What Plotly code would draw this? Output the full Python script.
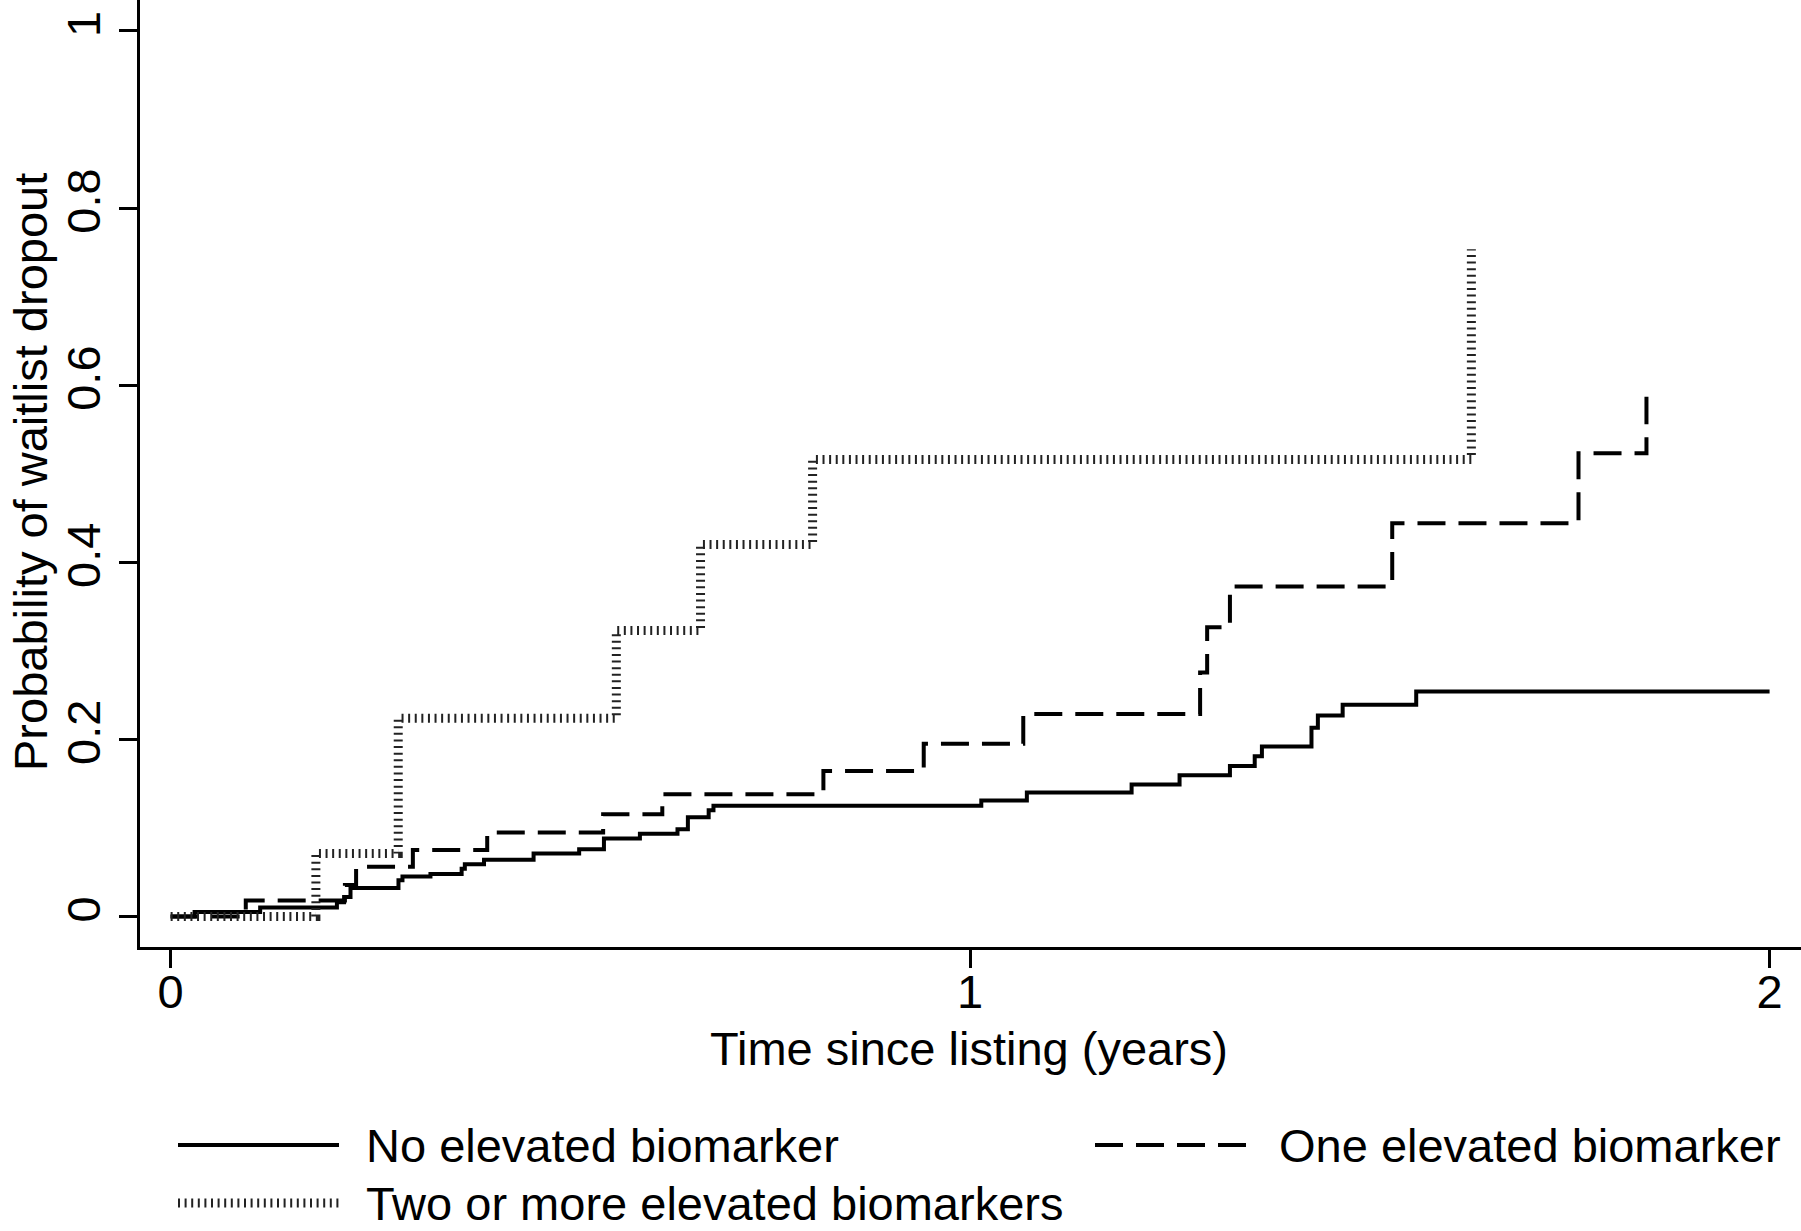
import plotly.graph_objects as go

# ---- data ----
no_t = [0, 0.030, 0.112, 0.208, 0.217, 0.225, 0.285, 0.290, 0.325, 0.364, 0.368, 0.392,
        0.454, 0.511, 0.542, 0.587, 0.634, 0.647, 0.673, 0.679, 1.014, 1.071, 1.202,
        1.262, 1.325, 1.356, 1.365, 1.427, 1.435, 1.466, 1.558, 2.0]
no_p = [0, 0.005, 0.010, 0.016, 0.022, 0.032, 0.041, 0.045, 0.048, 0.054, 0.059, 0.064,
        0.071, 0.076, 0.088, 0.0935, 0.0985, 0.112, 0.120, 0.125, 0.131, 0.140, 0.149,
        0.1595, 0.170, 0.181, 0.192, 0.213, 0.227, 0.239, 0.254, 0.254]

one_t = [0, 0.094, 0.218, 0.232, 0.303, 0.396, 0.541, 0.615, 0.8165, 0.942, 1.0665,
         1.2877, 1.2965, 1.325, 1.528, 1.761, 1.846]
one_p = [0, 0.018, 0.0355, 0.056, 0.075, 0.0947, 0.1154, 0.138, 0.1644, 0.195, 0.2285,
         0.2756, 0.3265, 0.3727, 0.444, 0.523, 0.587]

two_t = [0, 0.1817, 0.2847, 0.5575, 0.6628, 0.803, 1.627]
two_p = [0, 0.071, 0.2237, 0.323, 0.420, 0.516, 0.7535]

series_names = ["No elevated biomarker", "One elevated biomarker",
                "Two or more elevated biomarkers"]
x_ticks = [0, 1, 2]
y_ticks = [0, 0.2, 0.4, 0.6, 0.8, 1]
y_tick_text = ["0", "0.2", "0.4", "0.6", "0.8", "1"]
x_title = "Time since listing (years)"
y_title = "Probability of waitlist dropout"

FONT = "Liberation Sans, Arial, Helvetica, sans-serif"
FS = 47

styles = [
    dict(color="black", width=4, dash="solid"),
    dict(color="black", width=4, dash="28px,13px"),
    dict(color="#222222", width=9, dash="2px,4.6px"),
]

fig = go.Figure()
for t, p, name, st in zip([no_t, one_t, two_t], [no_p, one_p, two_p], series_names, styles):
    fig.add_trace(go.Scatter(x=t, y=p, mode="lines", name=name, line=dict(shape="hv", **st),
                             showlegend=False))

W, H = 1801, 1231
L, B = 140, 284
PW, PH = W - L, H - B


def px_x(px):
    return (px - L) / PW


def px_y(py):
    return (H - B - py) / PH


# manual legend (long line samples like the reference)
legend_items = [
    (178, 339, 1145, 365, 0),
    (1095, 1246, 1145, 1278, 1),
    (178, 339, 1203, 365, 2),
]
for x0, x1, yy, tx, idx in legend_items:
    st = styles[idx]
    fig.add_shape(type="line", xref="paper", yref="paper",
                  x0=px_x(x0), x1=px_x(x1), y0=px_y(yy), y1=px_y(yy),
                  line=dict(color=st["color"], width=st["width"], dash=st["dash"]))
    fig.add_annotation(xref="paper", yref="paper", x=px_x(tx), y=px_y(yy),
                       text=series_names[idx], showarrow=False, xanchor="left",
                       yanchor="middle", borderpad=0,
                       font=dict(family=FONT, size=FS, color="black"))

# axis titles
fig.add_annotation(xref="paper", yref="paper", x=px_x(969), y=px_y(1048), text=x_title,
                   showarrow=False, xanchor="center", yanchor="middle",
                   font=dict(family=FONT, size=FS, color="black"))
fig.add_annotation(xref="paper", yref="paper", x=px_x(30), y=px_y(472), text=y_title,
                   textangle=-90, showarrow=False, xanchor="center", yanchor="middle",
                   borderpad=0, font=dict(family=FONT, size=FS, color="black"))

fig.update_layout(
    width=W, height=H,
    margin=dict(l=L, r=0, t=0, b=B, pad=0),
    paper_bgcolor="white", plot_bgcolor="white",
    font=dict(family=FONT, size=FS, color="black"),
    xaxis=dict(range=[-0.0383, 2.0393], tickvals=x_ticks, ticktext=[str(v) for v in x_ticks],
               showgrid=False, zeroline=False, showline=True, linecolor="black", linewidth=3,
               ticks="outside", ticklen=18, tickwidth=2.5, tickcolor="black",
               ticklabelstandoff=-16,
               tickfont=dict(family=FONT, size=FS, color="black")),
    yaxis=dict(range=[-0.0345, 1.035], tickvals=y_ticks, ticktext=y_tick_text,
               showgrid=False, zeroline=False, showline=True, linecolor="black", linewidth=3,
               ticks="outside", ticklen=18, tickwidth=2.5, tickcolor="black", tickangle=-90,
               tickfont=dict(family=FONT, size=FS, color="black")),
)

fig.write_html("out.html", config={"displayModeBar": False},
               post_script="document.body.style.margin='0';document.body.style.overflow='hidden';")
